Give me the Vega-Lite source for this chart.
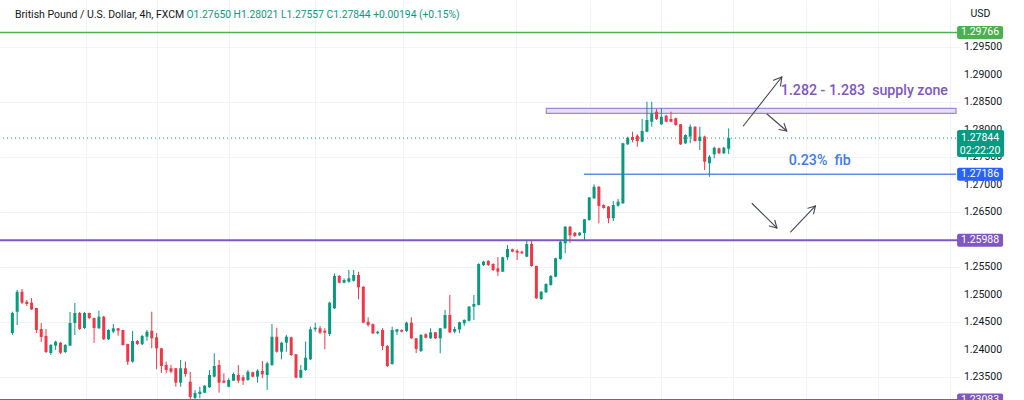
{
  "$schema": "https://vega.github.io/schema/vega-lite/v6.json",
  "width": 960,
  "height": 400,
  "autosize": {"type": "none"},
  "padding": {"left": 0, "top": 0, "right": 64, "bottom": 0},
  "background": "#ffffff",
  "config": {"view": {"stroke": null}, "font": "Roboto"},
  "title": {
    "text": "British Pound / U.S. Dollar, 4h, FXCM",
    "anchor": "start", "frame": "group", "orient": "top", "offset": 0,
    "dx": 15, "dy": 20, "fontSize": 10.5, "fontWeight": "normal", "color": "#131722", "font": "Roboto"
  },
  "datasets": {
    "candles": [
      {"i":0,"o":1.24300,"h":1.24688,"l":1.24264,"c":1.24664},
      {"i":1,"o":1.24688,"h":1.25082,"l":1.24446,"c":1.25051},
      {"i":2,"o":1.25051,"h":1.25100,"l":1.24828,"c":1.24851},
      {"i":3,"o":1.24870,"h":1.24900,"l":1.24791,"c":1.24828},
      {"i":4,"o":1.24851,"h":1.24937,"l":1.24719,"c":1.24731},
      {"i":5,"o":1.24755,"h":1.24760,"l":1.24300,"c":1.24355},
      {"i":6,"o":1.24373,"h":1.24482,"l":1.24137,"c":1.24228},
      {"i":7,"o":1.24246,"h":1.24373,"l":1.23937,"c":1.23955},
      {"i":8,"o":1.23937,"h":1.24100,"l":1.23900,"c":1.24082},
      {"i":9,"o":1.24070,"h":1.24160,"l":1.23991,"c":1.24142},
      {"i":10,"o":1.24124,"h":1.24142,"l":1.23919,"c":1.23942},
      {"i":11,"o":1.23955,"h":1.24100,"l":1.23937,"c":1.24082},
      {"i":12,"o":1.24070,"h":1.24682,"l":1.24064,"c":1.24482},
      {"i":13,"o":1.24482,"h":1.24846,"l":1.24264,"c":1.24664},
      {"i":14,"o":1.24664,"h":1.24682,"l":1.24355,"c":1.24373},
      {"i":15,"o":1.24391,"h":1.24682,"l":1.24373,"c":1.24664},
      {"i":16,"o":1.24664,"h":1.24670,"l":1.24555,"c":1.24573},
      {"i":17,"o":1.24573,"h":1.24580,"l":1.24119,"c":1.24391},
      {"i":18,"o":1.24386,"h":1.24706,"l":1.24373,"c":1.24597},
      {"i":19,"o":1.24597,"h":1.24610,"l":1.24173,"c":1.24186},
      {"i":20,"o":1.24186,"h":1.24368,"l":1.24173,"c":1.24355},
      {"i":21,"o":1.24324,"h":1.24464,"l":1.24300,"c":1.24386},
      {"i":22,"o":1.24386,"h":1.24391,"l":1.24251,"c":1.24342},
      {"i":23,"o":1.24355,"h":1.24360,"l":1.24070,"c":1.24082},
      {"i":24,"o":1.24100,"h":1.24105,"l":1.23719,"c":1.23779},
      {"i":25,"o":1.23779,"h":1.24337,"l":1.23760,"c":1.24155},
      {"i":26,"o":1.24155,"h":1.24173,"l":1.24082,"c":1.24100},
      {"i":27,"o":1.24095,"h":1.24264,"l":1.24082,"c":1.24246},
      {"i":28,"o":1.24233,"h":1.24355,"l":1.24160,"c":1.24324},
      {"i":29,"o":1.24342,"h":1.24688,"l":1.24022,"c":1.24204},
      {"i":30,"o":1.24222,"h":1.24300,"l":1.23640,"c":1.24022},
      {"i":31,"o":1.24022,"h":1.24030,"l":1.23573,"c":1.23700},
      {"i":32,"o":1.23719,"h":1.23779,"l":1.23568,"c":1.23628},
      {"i":33,"o":1.23659,"h":1.23719,"l":1.23568,"c":1.23597},
      {"i":34,"o":1.23659,"h":1.23665,"l":1.23324,"c":1.23397},
      {"i":35,"o":1.23397,"h":1.23810,"l":1.23324,"c":1.23659},
      {"i":36,"o":1.23659,"h":1.23779,"l":1.23506,"c":1.23555},
      {"i":37,"o":1.23415,"h":1.23597,"l":1.23100,"c":1.23137},
      {"i":38,"o":1.23119,"h":1.23264,"l":1.23082,"c":1.23210},
      {"i":39,"o":1.23191,"h":1.23324,"l":1.23113,"c":1.23233},
      {"i":40,"o":1.23215,"h":1.23355,"l":1.23204,"c":1.23342},
      {"i":41,"o":1.23313,"h":1.23628,"l":1.23300,"c":1.23537},
      {"i":42,"o":1.23506,"h":1.23931,"l":1.23495,"c":1.23700},
      {"i":43,"o":1.23719,"h":1.23810,"l":1.23215,"c":1.23397},
      {"i":44,"o":1.23433,"h":1.23568,"l":1.23386,"c":1.23397},
      {"i":45,"o":1.23324,"h":1.23477,"l":1.23313,"c":1.23446},
      {"i":46,"o":1.23433,"h":1.23579,"l":1.23428,"c":1.23555},
      {"i":47,"o":1.23537,"h":1.23719,"l":1.23386,"c":1.23433},
      {"i":48,"o":1.23495,"h":1.23537,"l":1.23355,"c":1.23433},
      {"i":49,"o":1.23446,"h":1.23628,"l":1.23433,"c":1.23597},
      {"i":50,"o":1.23586,"h":1.23597,"l":1.23495,"c":1.23506},
      {"i":51,"o":1.23506,"h":1.23640,"l":1.23397,"c":1.23615},
      {"i":52,"o":1.23610,"h":1.23791,"l":1.23477,"c":1.23550},
      {"i":53,"o":1.23537,"h":1.23779,"l":1.23264,"c":1.23750},
      {"i":54,"o":1.23719,"h":1.24464,"l":1.23700,"c":1.24233},
      {"i":55,"o":1.24233,"h":1.24397,"l":1.23942,"c":1.23960},
      {"i":56,"o":1.23960,"h":1.24142,"l":1.23822,"c":1.24124},
      {"i":57,"o":1.24124,"h":1.24264,"l":1.23960,"c":1.24233},
      {"i":58,"o":1.24222,"h":1.24233,"l":1.23882,"c":1.23900},
      {"i":59,"o":1.23913,"h":1.23919,"l":1.23477,"c":1.23488},
      {"i":60,"o":1.23488,"h":1.23719,"l":1.23477,"c":1.23628},
      {"i":61,"o":1.23628,"h":1.24142,"l":1.23610,"c":1.23851},
      {"i":62,"o":1.23822,"h":1.24415,"l":1.23810,"c":1.24368},
      {"i":63,"o":1.24368,"h":1.24488,"l":1.24324,"c":1.24397},
      {"i":64,"o":1.24386,"h":1.24428,"l":1.24282,"c":1.24306},
      {"i":65,"o":1.24342,"h":1.24386,"l":1.24004,"c":1.24306},
      {"i":66,"o":1.24282,"h":1.24870,"l":1.24246,"c":1.24851},
      {"i":67,"o":1.24750,"h":1.25386,"l":1.24737,"c":1.25337},
      {"i":68,"o":1.25337,"h":1.25355,"l":1.25204,"c":1.25215},
      {"i":69,"o":1.25215,"h":1.25295,"l":1.25204,"c":1.25264},
      {"i":70,"o":1.25233,"h":1.25446,"l":1.25215,"c":1.25295},
      {"i":71,"o":1.25251,"h":1.25446,"l":1.25233,"c":1.25355},
      {"i":72,"o":1.25355,"h":1.25415,"l":1.24913,"c":1.25131},
      {"i":73,"o":1.25142,"h":1.25150,"l":1.24477,"c":1.24488},
      {"i":74,"o":1.24506,"h":1.24586,"l":1.24415,"c":1.24446},
      {"i":75,"o":1.24459,"h":1.24477,"l":1.24282,"c":1.24295},
      {"i":76,"o":1.24295,"h":1.24342,"l":1.24277,"c":1.24324},
      {"i":77,"o":1.24355,"h":1.24391,"l":1.23991,"c":1.24064},
      {"i":78,"o":1.24064,"h":1.24082,"l":1.23682,"c":1.23700},
      {"i":79,"o":1.23737,"h":1.24415,"l":1.23724,"c":1.24355},
      {"i":80,"o":1.24324,"h":1.24373,"l":1.24264,"c":1.24368},
      {"i":81,"o":1.24355,"h":1.24368,"l":1.24313,"c":1.24324},
      {"i":82,"o":1.24337,"h":1.24506,"l":1.24319,"c":1.24488},
      {"i":83,"o":1.24488,"h":1.24586,"l":1.24191,"c":1.24204},
      {"i":84,"o":1.24204,"h":1.24210,"l":1.23937,"c":1.24010},
      {"i":85,"o":1.23973,"h":1.24282,"l":1.23955,"c":1.24264},
      {"i":86,"o":1.24277,"h":1.24295,"l":1.24204,"c":1.24215},
      {"i":87,"o":1.24204,"h":1.24386,"l":1.24191,"c":1.24313},
      {"i":88,"o":1.24313,"h":1.24319,"l":1.24191,"c":1.24204},
      {"i":89,"o":1.24204,"h":1.24391,"l":1.23931,"c":1.24386},
      {"i":90,"o":1.24386,"h":1.24719,"l":1.24373,"c":1.24628},
      {"i":91,"o":1.24628,"h":1.24991,"l":1.24300,"c":1.24313},
      {"i":92,"o":1.24324,"h":1.24415,"l":1.24295,"c":1.24373},
      {"i":93,"o":1.24364,"h":1.24506,"l":1.24295,"c":1.24495},
      {"i":94,"o":1.24477,"h":1.24550,"l":1.24433,"c":1.24537},
      {"i":95,"o":1.24524,"h":1.24791,"l":1.24506,"c":1.24779},
      {"i":96,"o":1.24779,"h":1.24991,"l":1.24537,"c":1.24828},
      {"i":97,"o":1.24810,"h":1.25568,"l":1.24800,"c":1.25555},
      {"i":98,"o":1.25537,"h":1.25615,"l":1.25519,"c":1.25597},
      {"i":99,"o":1.25610,"h":1.25628,"l":1.25519,"c":1.25537},
      {"i":100,"o":1.25555,"h":1.25568,"l":1.25428,"c":1.25446},
      {"i":101,"o":1.25477,"h":1.25682,"l":1.25337,"c":1.25415},
      {"i":102,"o":1.25415,"h":1.25688,"l":1.25410,"c":1.25677},
      {"i":103,"o":1.25677,"h":1.25900,"l":1.25628,"c":1.25828},
      {"i":104,"o":1.25822,"h":1.25833,"l":1.25768,"c":1.25779},
      {"i":105,"o":1.25797,"h":1.25822,"l":1.25628,"c":1.25760},
      {"i":106,"o":1.25779,"h":1.25797,"l":1.25737,"c":1.25750},
      {"i":107,"o":1.25688,"h":1.25991,"l":1.25682,"c":1.25919},
      {"i":108,"o":1.25919,"h":1.25991,"l":1.25506,"c":1.25519},
      {"i":109,"o":1.25519,"h":1.25525,"l":1.24919,"c":1.24931},
      {"i":110,"o":1.24919,"h":1.25064,"l":1.24900,"c":1.25051},
      {"i":111,"o":1.25040,"h":1.25204,"l":1.25028,"c":1.25191},
      {"i":112,"o":1.25173,"h":1.25355,"l":1.25160,"c":1.25337},
      {"i":113,"o":1.25324,"h":1.25670,"l":1.25313,"c":1.25659},
      {"i":114,"o":1.25646,"h":1.25979,"l":1.25633,"c":1.25960},
      {"i":115,"o":1.25931,"h":1.26246,"l":1.25750,"c":1.26233},
      {"i":116,"o":1.26233,"h":1.26246,"l":1.25937,"c":1.26077},
      {"i":117,"o":1.26124,"h":1.26137,"l":1.26046,"c":1.26064},
      {"i":118,"o":1.26077,"h":1.26137,"l":1.26064,"c":1.26124},
      {"i":119,"o":1.26119,"h":1.26373,"l":1.25991,"c":1.26368},
      {"i":120,"o":1.26355,"h":1.26773,"l":1.26342,"c":1.26764},
      {"i":121,"o":1.26750,"h":1.27004,"l":1.26737,"c":1.26960},
      {"i":122,"o":1.26960,"h":1.26973,"l":1.26295,"c":1.26610},
      {"i":123,"o":1.26628,"h":1.26640,"l":1.26560,"c":1.26573},
      {"i":124,"o":1.26600,"h":1.26610,"l":1.26295,"c":1.26386},
      {"i":125,"o":1.26386,"h":1.26700,"l":1.26337,"c":1.26628},
      {"i":126,"o":1.26615,"h":1.26737,"l":1.26597,"c":1.26688},
      {"i":127,"o":1.26659,"h":1.27760,"l":1.26646,"c":1.27750},
      {"i":128,"o":1.27731,"h":1.27870,"l":1.27719,"c":1.27851},
      {"i":129,"o":1.27864,"h":1.27960,"l":1.27768,"c":1.27810},
      {"i":130,"o":1.27888,"h":1.27913,"l":1.27688,"c":1.27791},
      {"i":131,"o":1.27779,"h":1.28191,"l":1.27768,"c":1.27973},
      {"i":132,"o":1.27960,"h":1.28506,"l":1.27950,"c":1.28173},
      {"i":133,"o":1.28142,"h":1.28506,"l":1.28051,"c":1.28295},
      {"i":134,"o":1.28324,"h":1.28373,"l":1.28173,"c":1.28191},
      {"i":135,"o":1.28095,"h":1.28386,"l":1.28082,"c":1.28233},
      {"i":136,"o":1.28251,"h":1.28270,"l":1.28131,"c":1.28142},
      {"i":137,"o":1.28191,"h":1.28324,"l":1.28131,"c":1.28142},
      {"i":138,"o":1.28204,"h":1.28215,"l":1.28070,"c":1.28082},
      {"i":139,"o":1.28095,"h":1.28100,"l":1.27719,"c":1.27731},
      {"i":140,"o":1.27750,"h":1.27913,"l":1.27737,"c":1.27900},
      {"i":141,"o":1.27870,"h":1.28095,"l":1.27750,"c":1.28051},
      {"i":142,"o":1.28051,"h":1.28059,"l":1.27779,"c":1.27791},
      {"i":143,"o":1.27791,"h":1.28051,"l":1.27628,"c":1.27870},
      {"i":144,"o":1.27870,"h":1.27888,"l":1.27264,"c":1.27415},
      {"i":145,"o":1.27386,"h":1.27537,"l":1.27142,"c":1.27506},
      {"i":146,"o":1.27550,"h":1.27688,"l":1.27477,"c":1.27670},
      {"i":147,"o":1.27659,"h":1.27670,"l":1.27555,"c":1.27568},
      {"i":148,"o":1.27568,"h":1.27688,"l":1.27555,"c":1.27670},
      {"i":149,"o":1.27650,"h":1.28021,"l":1.27557,"c":1.27844}
    ],
    "zone": [{"from": 111.07, "to": 196.3, "lo": 1.28295, "hi": 1.28386}],
    "fib": [{"from": 118.89, "to": 196.3, "p": 1.27186}],
    "ticks": [{"v":1.235},{"v":1.24},{"v":1.245},{"v":1.25},{"v":1.255},{"v":1.265},{"v":1.27},{"v":1.275},{"v":1.28},{"v":1.285},{"v":1.29},{"v":1.295}],
    "arrows": [
      {"i1":152.03,"p1":1.28064,"i2":160.05,"p2":1.28955},
      {"i1":160.05,"p1":1.28955,"i2":158.33,"p2":1.28895},
      {"i1":160.05,"p1":1.28955,"i2":159.79,"p2":1.28793},
      {"i1":156.97,"p1":1.28282,"i2":161.08,"p2":1.27973},
      {"i1":161.08,"p1":1.27973,"i2":160.53,"p2":1.28110},
      {"i1":161.08,"p1":1.27973,"i2":159.46,"p2":1.27999},
      {"i1":153.88,"p1":1.26655,"i2":159.03,"p2":1.26210},
      {"i1":159.03,"p1":1.26210,"i2":158.60,"p2":1.26350},
      {"i1":159.03,"p1":1.26210,"i2":157.44,"p2":1.26246},
      {"i1":161.91,"p1":1.26137,"i2":167.05,"p2":1.26610},
      {"i1":167.05,"p1":1.26610,"i2":165.47,"p2":1.26570},
      {"i1":167.05,"p1":1.26610,"i2":166.66,"p2":1.26468}
    ]
  },
  "layer": [
    {
      "data": {"name": "zone"},
      "mark": {"type": "rect", "fill": "#e6def5", "stroke": "#a088d8", "strokeWidth": 1.2},
      "encoding": {
        "x": {"field": "from", "type": "quantitative",
          "scale": {"domain": [-1.531, 196.08], "nice": false, "zero": false},
          "axis": {"orient": "top", "values": [15.29, 30.02, 45.13, 62.96, 81.16, 104.83, 120.12, 135.01, 149.97, 165.0, 179.96, 194.99],
            "grid": true, "gridColor": "#f0f3fa", "gridWidth": 1, "labels": false, "ticks": false, "domain": false,
            "title": "O1.27650  H1.28021  L1.27557  C1.27844  +0.00194 (+0.15%)",
            "titleColor": "#089981", "titleFontSize": 10.3, "titleFontWeight": "normal", "titleFont": "Roboto",
            "titleX": 186, "titleY": 14, "titleAlign": "left", "titleBaseline": "middle", "titleAngle": 0}},
        "x2": {"field": "to"},
        "y": {"field": "lo", "type": "quantitative",
          "scale": {"domain": [1.23082, 1.30355], "nice": false, "zero": false},
          "axis": {"orient": "right", "values": [1.235, 1.24, 1.245, 1.25, 1.255, 1.26, 1.265, 1.27, 1.275, 1.28, 1.285, 1.29, 1.295, 1.3],
            "labels": false,
            "grid": true, "gridColor": "#f0f3fa", "gridWidth": 1, "ticks": false, "domain": false,
            "title": "USD", "titleAngle": 0, "titleX": 10, "titleY": 13, "titleAlign": "left", "titleBaseline": "middle",
            "titleFontSize": 10.5, "titleFontWeight": "normal", "titleColor": "#131722", "titleFont": "Roboto"}},
        "y2": {"field": "hi"}
      }
    },
    {
      "data": {"values": [{"p": 1.29766}]},
      "mark": {"type": "rule", "color": "#4caf50", "strokeWidth": 1.5},
      "encoding": {"y": {"field": "p", "type": "quantitative"}}
    },
    {
      "data": {"values": [{"p": 1.25988}, {"p": 1.23083}]},
      "mark": {"type": "rule", "color": "#7e57c2", "strokeWidth": 2},
      "encoding": {"y": {"field": "p", "type": "quantitative"}}
    },
    {
      "data": {"values": [{"p": 1.27844}]},
      "mark": {"type": "rule", "color": "#089981", "strokeWidth": 1, "strokeDash": [1, 3]},
      "encoding": {"y": {"field": "p", "type": "quantitative"}}
    },
    {
      "data": {"name": "fib"},
      "mark": {"type": "rule", "color": "#5b8def", "strokeWidth": 1.5},
      "encoding": {
        "x": {"field": "from", "type": "quantitative"},
        "x2": {"field": "to"},
        "y": {"field": "p", "type": "quantitative"}
      }
    },
    {
      "data": {"name": "candles"},
      "mark": {"type": "rule", "strokeWidth": 1},
      "encoding": {
        "x": {"field": "i", "type": "quantitative"},
        "y": {"field": "l", "type": "quantitative"},
        "y2": {"field": "h"},
        "color": {"condition": {"test": "datum.c >= datum.o", "value": "#089981"}, "value": "#f23645"}
      }
    },
    {
      "data": {"name": "candles"},
      "mark": {"type": "bar", "size": 3, "orient": "vertical"},
      "encoding": {
        "x": {"field": "i", "type": "quantitative"},
        "y": {"field": "o", "type": "quantitative"},
        "y2": {"field": "c"},
        "color": {"condition": {"test": "datum.c >= datum.o", "value": "#089981"}, "value": "#f23645"}
      }
    },
    {
      "data": {"name": "arrows"},
      "mark": {"type": "rule", "color": "#434651", "strokeWidth": 1.1, "strokeCap": "round"},
      "encoding": {
        "x": {"field": "i1", "type": "quantitative"},
        "x2": {"field": "i2"},
        "y": {"field": "p1", "type": "quantitative"},
        "y2": {"field": "p2"}
      }
    },
    {
      "data": {"values": [{"note": "1.282 - 1.283\u00a0 supply zone", "i": 159.85, "p": 1.28700}]},
      "mark": {"type": "text", "align": "left", "baseline": "middle", "fontSize": 14.2, "fontWeight": 500, "color": "#7e57c2", "font": "Roboto"},
      "encoding": {
        "x": {"field": "i", "type": "quantitative"},
        "y": {"field": "p", "type": "quantitative"},
        "text": {"field": "note"}
      }
    },
    {
      "data": {"values": [{"note": "0.23%\u00a0 fib", "i": 161.5, "p": 1.27428}]},
      "mark": {"type": "text", "align": "left", "baseline": "middle", "fontSize": 14.2, "fontWeight": 500, "color": "#3d7bf0", "font": "Roboto"},
      "encoding": {
        "x": {"field": "i", "type": "quantitative"},
        "y": {"field": "p", "type": "quantitative"},
        "text": {"field": "note"}
      }
    },
    {
      "data": {"name": "ticks"},
      "mark": {"type": "text", "align": "left", "baseline": "middle", "fontSize": 10.5, "color": "#131722", "font": "Roboto"},
      "encoding": {
        "x": {"datum": 197.93, "type": "quantitative"},
        "y": {"field": "v", "type": "quantitative"},
        "text": {"field": "v", "type": "quantitative", "format": ".5f"}
      }
    },
    {
      "data": {"values": [{"p": 1.29766}]},
      "mark": {"type": "tick", "orient": "horizontal", "size": 46, "thickness": 13, "color": "#4caf50", "opacity": 1, "cornerRadius": 2},
      "encoding": {"x": {"datum": 201.3, "type": "quantitative"}, "y": {"field": "p", "type": "quantitative"}}
    },
    {
      "data": {"values": [{"p": 1.27186}]},
      "mark": {"type": "tick", "orient": "horizontal", "size": 46, "thickness": 13, "color": "#2962ff", "opacity": 1, "cornerRadius": 2},
      "encoding": {"x": {"datum": 201.3, "type": "quantitative"}, "y": {"field": "p", "type": "quantitative"}}
    },
    {
      "data": {"values": [{"p": 1.25988}, {"p": 1.23083}]},
      "mark": {"type": "tick", "orient": "horizontal", "size": 46, "thickness": 13, "color": "#7e57c2", "opacity": 1, "cornerRadius": 2},
      "encoding": {"x": {"datum": 201.3, "type": "quantitative"}, "y": {"field": "p", "type": "quantitative"}}
    },
    {
      "data": {"values": [{"p": 1.27844}]},
      "mark": {"type": "tick", "orient": "horizontal", "size": 47, "thickness": 27, "yOffset": 5.5, "color": "#089981", "opacity": 1, "cornerRadius": 2},
      "encoding": {"x": {"datum": 201.4, "type": "quantitative"}, "y": {"field": "p", "type": "quantitative"}}
    },
    {
      "data": {"values": [{"p": 1.29766}, {"p": 1.27844}, {"p": 1.27186}, {"p": 1.25988}, {"p": 1.23083}]},
      "mark": {"type": "text", "align": "center", "baseline": "middle", "fontSize": 10.5, "color": "#ffffff", "font": "Roboto"},
      "encoding": {
        "x": {"datum": 201.3, "type": "quantitative"},
        "y": {"field": "p", "type": "quantitative"},
        "text": {"field": "p", "type": "quantitative", "format": ".5f"}
      }
    },
    {
      "data": {"values": [{"p": 1.27844, "countdown": "02:22:20"}]},
      "mark": {"type": "text", "align": "center", "baseline": "middle", "fontSize": 10.5, "color": "#ffffff", "font": "Roboto", "dy": 12.5},
      "encoding": {
        "x": {"datum": 201.3, "type": "quantitative"},
        "y": {"field": "p", "type": "quantitative"},
        "text": {"field": "countdown"}
      }
    }
  ]
}
